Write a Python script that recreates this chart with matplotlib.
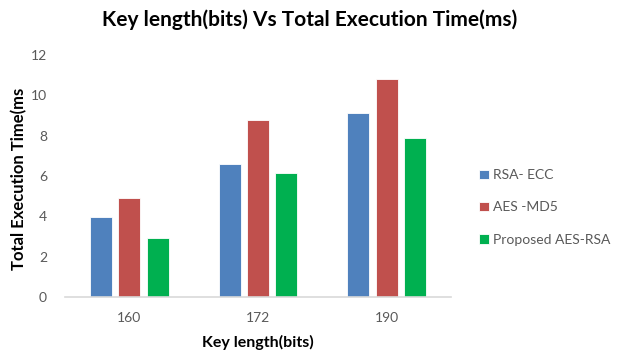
import matplotlib
matplotlib.use("Agg")
import matplotlib.pyplot as plt
import numpy as np

plt.rcParams['font.family'] = ['Lato', 'DejaVu Sans']

key_lengths = ['160', '172', '190']
rsa_ecc = [3.95, 6.6, 9.1]
aes_md5 = [4.9, 8.8, 10.8]
proposed = [2.95, 6.15, 7.9]

series = [
    ('RSA- ECC', rsa_ecc, '#4F81BD'),
    ('AES -MD5', aes_md5, '#C0504D'),
    ('Proposed AES-RSA', proposed, '#00B050'),
]

fig = plt.figure(figsize=(6.19, 3.55), dpi=100)
ax = fig.add_axes([65 / 619, 1 - 297 / 355, 386 / 619, 242 / 355])

x = np.arange(len(key_lengths))
width = 0.17
step = 0.22
for i, (name, vals, color) in enumerate(series):
    ax.bar(x + (i - 1) * step, vals, width, color=color, label=name,
           edgecolor='white', linewidth=0.6)

ax.set_xlim(-0.5, 2.5)
ax.set_ylim(0, 12)
ax.set_yticks(range(0, 13, 2))
ax.set_xticks(x)
ax.set_xticklabels(key_lengths)

for s in ['top', 'right', 'left']:
    ax.spines[s].set_visible(False)
ax.spines['bottom'].set_color('#D9D9D9')
ax.spines['bottom'].set_linewidth(1.2)
ax.tick_params(axis='both', length=0, labelsize=10, colors='#595959')
ax.tick_params(axis='x', pad=11)
ax.tick_params(axis='y', pad=13)

ax.set_xlabel('Key length(bits)', fontsize=11.5, fontweight='bold')
ax.xaxis.set_label_coords(0.5, -(335 - 297) / 242)
ax.set_ylabel('Total Execution Time(ms', fontsize=12, fontweight='bold')
ax.yaxis.set_label_coords(-(65 - 27) / 386, 0.49)

fig.text(0.5, 1 - 20 / 355, 'Key length(bits) Vs Total Execution Time(ms)',
         ha='center', va='center', fontsize=15, fontweight='bold')

ax.legend(loc='center left', bbox_to_anchor=(1.04, 0.37), frameon=False,
          fontsize=10, handlelength=0.7, handleheight=0.7, handletextpad=0.3,
          labelspacing=1.45, labelcolor='#595959')

fig.savefig('out.png', dpi=100)
